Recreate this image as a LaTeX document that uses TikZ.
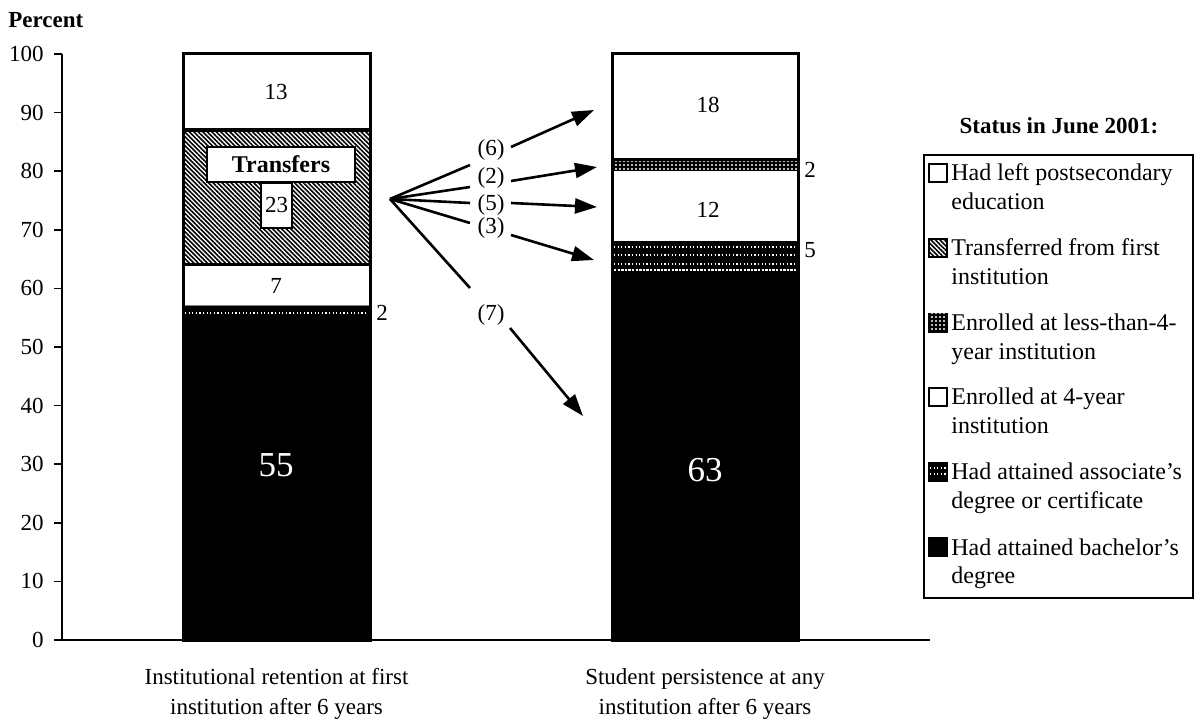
\documentclass[tikz,border=0pt]{standalone}
\usepackage{fontspec}
\setmainfont{Liberation Serif}
\usetikzlibrary{patterns,patterns.meta,arrows.meta}
\begin{document}
\begin{tikzpicture}[x=0.5pt,y=-0.5pt,
 txt/.style={font=\fontsize{11.5}{14.25}\selectfont, inner sep=0pt},
 legtxt/.style={font=\fontsize{12}{14.25}\selectfont, inner sep=0pt},
 boldtxt/.style={inner sep=0pt, font=\fontsize{11.5}{14.25}\selectfont\bfseries},
 axtxt/.style={inner sep=0pt, font=\fontsize{11.5}{15}\selectfont, align=center},
 big/.style={inner sep=0pt, font=\fontsize{17.5}{20}\selectfont, text=white},
 barline/.style={line width=1.5pt},
 conn/.style={line width=1.3pt},
 arr/.style={line width=1.3pt, -{Triangle[length=11pt,width=7.5pt]}},
 hatch/.style={fill=white, postaction={pattern={Lines[angle=-45,distance=1.6pt,line width=0.8pt]}}},
 gridpat/.style={fill=black, postaction={pattern={Dots[distance=2pt,radius=0.55pt]}, pattern color=white}},
 speck/.style={white, line width=0.6pt, dash pattern=on 0.6pt off 1.2pt},
 sw/.style={draw=black, line width=0.8pt}
]
\useasboundingbox (0,0) rectangle (1194,721);

% axis
\node[boldtxt, anchor=west] (pct) at (8,20) {Percent};
\foreach \v in {0,10,...,100}{
  \node[txt, anchor=east] (tk\v) at (44,{640-5.86*\v}) {\v};
  \draw[line width=0.8pt] (54,{640-5.86*\v}) -- (62,{640-5.86*\v});
}
\draw[line width=1pt] (62,54) -- (62,640) -- (930,640);

% left bar
\fill[black] (183,640) rectangle (370,306);
\draw[speck] (185,313) -- (368,313);
\fill[white] (183,306) rectangle (370,265);
\path[hatch] (183,265) rectangle (370,130.2);
\fill[white] (183,130.2) rectangle (370,54);
\draw[line width=0.5pt, gray] (183,306) -- (370,306);
\draw[barline] (183,265) -- (370,265);
\draw[line width=2pt] (183,130.2) -- (370,130.2);
\draw[barline] (183,640) rectangle (370,54);
\node[draw, line width=1.4pt, fill=white, minimum width=74pt, minimum height=17.5pt, inner sep=0pt, font=\fontsize{12}{14}\selectfont\bfseries] (tr) at (281,164.5) {Transfers};
\node[draw, line width=1pt, fill=white, minimum width=15.5pt, minimum height=22.5pt, inner sep=0pt, font=\fontsize{11.5}{14}\selectfont, anchor=north] (v23) at (276.5,182) {23};
\node[txt] (v13) at (276,92) {13};
\node[txt] (v7) at (276,286) {7};
\node[big] (v55) at (276,465) {55};
\node[txt] (v2a) at (382,313) {2};

% right bar
\fill[black] (612,640) rectangle (798,241.5);
\foreach \yy in {247,255,264}{\draw[speck] (614,\yy) -- (796,\yy);}
\draw[white, line width=0.6pt, dash pattern=on 1.2pt off 0.6pt] (614,270) -- (796,270);
\fill[white] (612,241.5) rectangle (798,171.2);
\path[gridpat] (612,171.2) rectangle (798,159.5);
\fill[white] (612,159.5) rectangle (798,54);
\draw[barline] (612,159.5) -- (798,159.5);
\draw[barline] (612,640) rectangle (798,54);
\node[txt] (v18) at (708,105) {18};
\node[txt] (v12) at (708,210) {12};
\node[big] (v63) at (705,470) {63};
\node[txt] (v2b) at (810,170) {2};
\node[txt] (v5) at (810,250) {5};

% flows
\coordinate (o) at (390,199);
\node[txt] (l6) at (491,150) {(6)};
\node[txt] (l2) at (491,178) {(2)};
\node[txt] (l5) at (491,205) {(5)};
\node[txt] (l3) at (491,228) {(3)};
\node[txt] (l7) at (491,315) {(7)};
\coordinate (e6) at (470,165);
\coordinate (e2) at (470,187);
\coordinate (e5) at (470,203);
\coordinate (e3) at (470,223);
\coordinate (e7) at (470,288);
\foreach \k in {6,2,5,3,7}{\draw[conn] (o) -- (e\k);}
\coordinate (s6) at (511,147); \coordinate (t6) at (594,110);
\coordinate (s2) at (511,181); \coordinate (t2) at (597,167);
\coordinate (s5) at (511,203); \coordinate (t5) at (597,207);
\coordinate (s3) at (511,235); \coordinate (t3) at (594,260);
\coordinate (s7) at (510,328); \coordinate (t7) at (583,416);
\foreach \k in {6,2,5,3,7}{\draw[arr] (s\k) -- (t\k);}

% x labels (base anchor = last line)
\node[axtxt, anchor=base] (xl1) at (276.5,714.5) {Institutional retention at first\\institution after 6 years};
\node[axtxt, anchor=base] (xl2) at (705,714.5) {Student persistence at any\\institution after 6 years};

% legend
\node[boldtxt, anchor=base] (ltitle) at (1059,134) {Status in June 2001:};
\draw[line width=0.8pt] (924,155) rectangle (1193,598);
\path[sw, fill=white] (929,164) rectangle (947,182);
\path[sw, hatch] (929,239) rectangle (947,257);
\path[sw, gridpat] (929,314) rectangle (947,332);
\path[sw, fill=white] (929,388) rectangle (947,406);
\path[sw, fill=black] (929,463) rectangle (947,481);
\draw[speck] (930,468) -- (946,468);
\draw[speck] (930,474) -- (946,474);
\path[sw, fill=black] (929,538) rectangle (947,556);
\node[legtxt, anchor=base west, align=left] (lg1) at (951,209.5) {Had left postsecondary\\education};
\node[legtxt, anchor=base west, align=left] (lg2) at (951,284.5) {Transferred from first\\institution};
\node[legtxt, anchor=base west, align=left] (lg3) at (951,359.5) {Enrolled at less-than-4-\\year institution};
\node[legtxt, anchor=base west, align=left] (lg4) at (951,433.5) {Enrolled at 4-year\\institution};
\node[legtxt, anchor=base west, align=left] (lg5) at (951,508.5) {Had attained associate’s\\degree or certificate};
\node[legtxt, anchor=base west, align=left] (lg6) at (951,583.5) {Had attained bachelor’s\\degree};
\end{tikzpicture}
\end{document}
